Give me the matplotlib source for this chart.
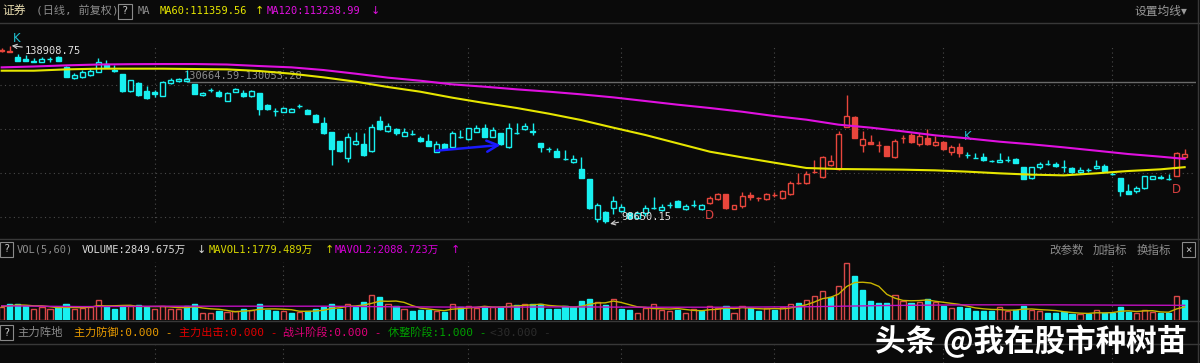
import matplotlib
matplotlib.use('Agg')
import matplotlib.pyplot as plt
from matplotlib.lines import Line2D
from matplotlib.patches import Rectangle
import numpy as np
import pandas as pd

plt.rcParams['font.family'] = ['DejaVu Sans Mono', 'Noto Sans CJK SC']

# ---- 数据（千元单位，读自原图） ----
OPEN = [137.78, 137.60, 136.42, 135.81, 135.30, 135.28, 135.80, 136.27, 134.15, 131.50,
        131.88, 132.26, 133.02, 134.68, 133.32, 132.41, 128.63, 130.37, 128.63, 128.33,
        127.57, 130.37, 130.90, 130.90, 130.22, 127.65, 128.82, 128.48, 126.44, 128.48,
        128.25, 127.50, 128.10, 125.46, 124.20, 123.94, 123.94, 125.20, 124.32, 123.19,
        121.45, 119.26, 117.29, 113.51, 116.54, 116.61, 115.02, 121.90, 119.56, 120.01,
        118.50, 118.98, 118.05, 117.29, 114.87, 116.61, 116.01, 118.27, 117.67, 119.41,
        120.16, 118.27, 119.03, 115.86, 119.20, 119.94, 119.45, 116.76, 115.42, 115.02,
        113.15, 112.45, 110.87, 108.67, 99.53, 101.11, 102.17, 101.49, 100.89, 99.90,
        100.89, 102.02, 101.57, 102.76, 103.68, 101.87, 102.76, 101.79, 103.15, 104.14,
        105.20, 101.87, 102.55, 105.04, 104.40, 104.06, 105.08, 104.29, 105.20, 107.80,
        107.69, 110.34, 109.20, 111.85, 110.87, 120.54, 122.81, 116.38, 117.14, 116.40,
        116.08, 113.59, 117.90, 118.65, 116.61, 117.90, 116.38, 117.14, 114.87, 115.86,
        114.15, 113.53, 113.59, 112.78, 112.60, 112.97, 113.13, 111.39, 108.82, 111.39,
        112.14, 112.00, 111.48, 111.24, 110.26, 110.65, 111.09, 111.62, 109.75, 108.97,
        105.95, 105.95, 106.56, 108.67, 109.13, 108.69, 109.35, 113.66]
HIGH = [138.31, 138.91, 136.95, 136.80, 136.19, 136.34, 136.34, 136.64, 134.20, 132.64,
        133.39, 133.77, 136.19, 135.66, 134.53, 132.50, 131.20, 130.75, 129.84, 128.86,
        130.90, 131.50, 131.66, 133.39, 130.30, 128.48, 129.39, 128.86, 128.48, 129.24,
        128.86, 128.86, 128.10, 125.76, 124.70, 125.00, 124.80, 125.61, 124.55, 123.34,
        122.73, 119.30, 117.40, 119.03, 119.41, 119.03, 121.07, 122.89, 121.45, 120.32,
        120.32, 119.71, 118.35, 118.80, 117.29, 116.84, 119.56, 119.79, 120.32, 120.92,
        121.22, 120.39, 119.10, 121.45, 121.30, 121.45, 121.45, 116.80, 116.01, 115.78,
        115.25, 114.12, 113.59, 108.70, 103.15, 101.49, 104.74, 103.08, 101.26, 101.50,
        102.78, 104.51, 103.08, 103.38, 103.80, 102.93, 103.91, 102.90, 104.89, 105.57,
        105.30, 102.80, 105.80, 105.80, 104.67, 105.40, 105.80, 106.25, 108.22, 109.96,
        110.49, 112.98, 113.97, 114.12, 119.56, 127.72, 122.90, 119.56, 118.65, 117.29,
        116.10, 117.75, 118.65, 119.03, 119.03, 119.94, 118.43, 117.29, 116.38, 116.76,
        114.87, 114.49, 114.49, 113.06, 114.65, 113.89, 113.51, 111.50, 111.50, 112.60,
        112.98, 112.60, 112.98, 111.30, 111.47, 111.09, 112.98, 112.00, 110.34, 109.00,
        107.54, 107.09, 109.43, 109.40, 109.58, 109.73, 114.70, 115.48]
LOW = [137.55, 137.50, 135.44, 135.40, 135.28, 135.25, 135.28, 135.40, 131.80, 131.35,
       131.66, 132.11, 132.86, 133.92, 133.02, 128.50, 128.50, 127.60, 126.82, 127.35,
       127.50, 130.22, 130.75, 130.75, 127.90, 127.57, 128.33, 127.35, 126.36, 128.33,
       127.35, 127.35, 123.19, 124.40, 122.96, 123.79, 123.90, 124.70, 123.34, 121.53,
       118.88, 111.85, 114.90, 112.45, 116.50, 113.97, 114.87, 119.79, 119.41, 118.65,
       118.40, 118.65, 117.14, 116.20, 114.80, 115.25, 115.95, 118.05, 117.59, 119.26,
       118.20, 118.20, 116.50, 115.80, 118.95, 119.71, 118.65, 114.87, 114.87, 113.59,
       112.91, 112.40, 108.80, 101.87, 99.00, 98.65, 100.81, 101.11, 99.60, 99.80,
       100.36, 101.87, 101.42, 102.17, 102.30, 101.57, 102.40, 101.70, 103.10, 103.99,
       101.90, 101.80, 102.02, 103.91, 103.68, 104.00, 104.67, 104.14, 105.04, 107.46,
       107.54, 109.96, 108.97, 111.70, 110.71, 120.50, 118.00, 114.87, 116.54, 114.87,
       113.90, 113.50, 116.76, 116.84, 116.16, 116.38, 116.23, 115.33, 114.12, 113.74,
       113.51, 113.36, 112.83, 112.45, 112.45, 112.60, 112.23, 108.60, 108.70, 110.94,
       111.90, 111.39, 110.34, 110.10, 109.81, 110.26, 110.94, 110.49, 109.58, 104.89,
       105.20, 105.42, 106.50, 108.60, 108.67, 108.37, 109.30, 113.50]
CLOSE = [137.93, 137.55, 135.51, 135.44, 135.45, 135.89, 135.90, 135.44, 131.88, 132.26,
         132.86, 133.17, 135.13, 134.07, 133.24, 128.63, 131.13, 127.72, 126.97, 127.88,
         130.75, 131.13, 131.35, 131.30, 127.96, 128.25, 128.86, 127.50, 128.10, 129.01,
         127.57, 128.63, 124.55, 124.50, 124.17, 124.70, 124.65, 125.24, 123.49, 121.68,
         119.03, 115.40, 115.02, 118.27, 117.29, 114.12, 120.47, 120.01, 120.77, 119.18,
         119.41, 118.95, 117.29, 116.23, 116.61, 115.48, 119.03, 118.30, 120.16, 120.32,
         118.27, 119.71, 116.54, 120.32, 119.15, 120.69, 119.40, 115.86, 115.38, 113.74,
         113.13, 113.10, 108.82, 102.17, 102.78, 99.15, 103.68, 102.32, 99.90, 100.89,
         102.02, 102.05, 102.32, 102.78, 102.40, 102.62, 102.80, 102.78, 104.44, 105.20,
         102.02, 102.70, 104.74, 104.51, 104.38, 105.27, 105.06, 105.95, 107.84, 107.78,
         109.81, 110.37, 113.74, 112.76, 118.88, 123.04, 118.05, 117.67, 116.61, 116.38,
         113.97, 117.37, 117.92, 116.99, 118.50, 116.54, 117.14, 115.48, 115.86, 114.65,
         114.10, 113.50, 112.98, 112.75, 112.98, 113.00, 112.38, 108.67, 111.39, 112.15,
         112.10, 111.55, 111.46, 110.18, 110.79, 110.63, 111.55, 110.56, 109.73, 106.03,
         105.27, 106.71, 109.28, 109.28, 108.82, 108.67, 114.65, 114.42]
# 成交量（万）
VOLUME = [1866, 2210, 2357, 2013, 1620, 1866, 1522, 1719, 2210, 1522,
          1719, 1866, 2946, 1964, 1620, 1964, 1964, 2111, 1866, 1620,
          2013, 1620, 1620, 1964, 2210, 1031, 1031, 1277, 1129, 1228,
          1522, 1375, 2259, 1375, 1277, 1277, 1031, 1129, 1277, 1522,
          1866, 2357, 1620, 2357, 1768, 2602, 3584, 3241, 2210, 1964,
          1620, 1277, 1375, 1473, 1277, 1129, 2357, 1768, 2013, 1719,
          1866, 1768, 1768, 2504, 2111, 2210, 2210, 2210, 1620, 1620,
          2013, 1768, 2701, 3093, 2602, 2111, 3093, 1620, 1473, 1031,
          1719, 2210, 1473, 1277, 1375, 1031, 1522, 1277, 2013, 1719,
          1964, 1031, 2013, 1719, 1277, 1719, 1375, 1768, 2357, 2504,
          2848, 3437, 4223, 3339, 4910, 8396, 6383, 4419, 2750, 2455,
          2504, 3584, 2750, 2504, 2602, 2995, 2602, 1964, 1719, 1866,
          1719, 1277, 1277, 1277, 1768, 1277, 1375, 1964, 1375, 1277,
          982, 982, 1129, 786, 786, 786, 1473, 1031, 982, 1768,
          1129, 982, 1473, 1129, 884, 884, 3437, 2850]
# 主力阵地红色区段（起止K线序号）
RED_RUNS = [(0, 1), (88, 119), (146, 147)]

# 均线读数（采样点）
MA_IDX = [0, 4, 8, 12, 16, 20, 24, 28, 32, 36, 40, 44, 48, 52, 56, 60, 64, 68, 72,
          76, 80, 84, 88, 92, 96, 100, 104, 108, 112, 116, 120, 124, 128, 132, 136,
          140, 144, 147]
MA60 = [133.24, 133.24, 133.54, 133.70, 133.70, 133.70, 133.62, 133.54, 133.17, 132.56,
        131.73, 130.75, 129.54, 128.48, 127.12, 125.91, 124.78, 123.49, 122.05, 120.32,
        118.65, 116.76, 114.87, 113.59, 112.38, 111.17, 110.94, 110.87, 110.79, 110.64,
        110.34, 109.96, 109.66, 109.50, 109.96, 110.49, 110.87, 111.36]
MA120 = [134.00, 134.19, 134.45, 134.64, 134.72, 134.75, 134.75, 134.64, 134.30, 134.00,
         133.39, 132.56, 131.66, 130.97, 130.14, 129.61, 129.01, 128.48, 127.88, 127.19,
         126.36, 125.53, 124.78, 123.94, 122.96, 122.13, 121.00, 120.32, 119.48, 118.58,
         117.90, 117.14, 116.54, 115.85, 115.10, 114.34, 113.74, 113.24]
MAVOL2_IDX = [0, 10, 20, 30, 40, 50, 60, 70, 80, 90, 100, 110, 120, 130, 140, 147]
MAVOL2 = [2013, 1900, 1960, 1960, 1960, 1860, 1810, 1860, 1810, 1810, 1880, 2060,
          2160, 2160, 2110, 2089]

MONTH_LINES = [19, 35, 58, 77, 96, 117, 138]
PRICE_GRID = [100, 110, 120, 130]

# ---- 样式 ----
BG = '#0a0a0a'
CYAN = '#18f0f0'
RED = '#e8463c'
YEL = '#e6e600'
MAG = '#e010e0'
GRID = '#4a4a4a'
SEP = '#383838'
W, H = 1200, 363

fig = plt.figure(figsize=(W / 100, H / 100), dpi=100, facecolor=BG)


def rect(x0, y0, x1, y1):
    return [x0 / W, 1 - y1 / H, (x1 - x0) / W, (y1 - y0) / H]


def ftxt(x, y, s, color, size=7.5, ha='left', **kw):
    fig.text(x / W, 1 - y / H, s, color=color, fontsize=size, ha=ha, va='center', **kw)


def fline(x0, y0, x1, y1, color=SEP, lw=1.0):
    fig.add_artist(Line2D([x0 / W, x1 / W], [1 - y0 / H, 1 - y1 / H],
                          transform=fig.transFigure, color=color, lw=lw))


def qbox(x0, y0, x1, y1, s='?'):
    fig.add_artist(Rectangle((x0 / W, 1 - y1 / H), (x1 - x0) / W, (y1 - y0) / H,
                             transform=fig.transFigure, fill=False, ec='#8a8a8a', lw=0.8))
    ftxt((x0 + x1) / 2, (y0 + y1) / 2, s, '#c8c8c8', size=7.5, ha='center')


o, h, l, c = (np.array(a) for a in (OPEN, HIGH, LOW, CLOSE))
vol = np.array(VOLUME)
n = len(o)
idx = np.arange(n)
red = np.zeros(n, bool)
for a, b in RED_RUNS:
    red[a:b + 1] = True
col = np.where(red, RED, CYAN)
up = c >= o
XLIM = (-0.21, 148.41)

# ── 主图 ──
ax = fig.add_axes(rect(0, 23, 1196, 237))
ax.set_facecolor(BG)
ax.set_xlim(*XLIM)
ax.set_ylim(95.52, 144.06)
ax.axis('off')
for p in PRICE_GRID:
    ax.axhline(p, color=GRID, lw=0.8, ls=(0, (1, 3)), zorder=0)
ax.vlines(MONTH_LINES, 99.0, 139.1, color=GRID, lw=0.8, ls=(0, (1, 3)), zorder=0)
ax.hlines(130.63, 23, XLIM[1], color='#6a6a6a', lw=1.0, zorder=1)
ax.text(23 - 0.35, 132.0, '130664.59-130053.28', color='#8c8c8c', fontsize=7.5,
        va='center', ha='left', zorder=1)

ax.vlines(idx, l, h, colors=col, lw=1.0, zorder=2)
face = np.where(up, BG, col)
ax.bar(idx, np.abs(c - o), 0.62, bottom=np.minimum(o, c), color=face,
       edgecolor=col, linewidth=1.0, zorder=3)

ax.plot(MA_IDX, MA60, color=YEL, lw=1.5, zorder=4)
ax.plot(MA_IDX, MA120, color=MAG, lw=1.5, zorder=4)

# 标注
ax.annotate('138908.75', xy=(1.25, 138.91), xytext=(2.9, 137.7), color='#e0e0e0',
            fontsize=7.5, va='center', ha='left',
            arrowprops=dict(arrowstyle='->', color='#d0d0d0', lw=0.8,
                            shrinkA=0, shrinkB=0))
ax.annotate('98650.15', xy=(75.6, 98.5), xytext=(77.0, 100.1), color='#e0e0e0',
            fontsize=7.5, va='center', ha='left', zorder=5,
            arrowprops=dict(arrowstyle='->', color='#d0d0d0', lw=0.8,
                            shrinkA=0, shrinkB=0))
ax.annotate('', xy=(62, 116.4), xytext=(54, 115.1),
            arrowprops=dict(arrowstyle='->,head_length=0.8,head_width=0.4',
                            color='#1a1aff', lw=1.8, shrinkA=0, shrinkB=0), zorder=5)
ax.text(1.85, 140.6, 'K', color='#20c0d0', fontsize=8.5, ha='center', va='center',
        family='DejaVu Sans')
ax.text(120, 118.4, 'K', color='#20c0d0', fontsize=8.5, ha='center', va='center',
        family='DejaVu Sans')
ax.text(88, 100.3, 'D', color='#d84040', fontsize=8.5, ha='center', va='center',
        family='DejaVu Sans')
ax.text(146, 106.4, 'D', color='#d84040', fontsize=8.5, ha='center', va='center',
        family='DejaVu Sans')

# ── 成交量 ──
axv = fig.add_axes(rect(0, 258, 1196, 319.5))
axv.set_facecolor(BG)
axv.set_xlim(*XLIM)
axv.set_ylim(0, 9060)
axv.axis('off')
axv.vlines(MONTH_LINES, 0, 8400, color=GRID, lw=0.8, ls=(0, (1, 3)), zorder=0)
prev = np.r_[c[0] - 1, c[:-1]]
vup = c >= prev
vcol = np.where(vup, '#d84848', CYAN)
vface = np.where(vup, BG, CYAN)
axv.bar(idx, vol, 0.64, color=vface, edgecolor=vcol, linewidth=1.0, zorder=2)
mavol1 = pd.Series(vol).rolling(5, min_periods=1).mean()
axv.plot(idx, mavol1, color='#c8b400', lw=1.0, zorder=3)
axv.plot(MAVOL2_IDX, MAVOL2, color='#c010c0', lw=1.0, zorder=3)

# ── 指标区 ──
axi = fig.add_axes(rect(0, 345, 1196, 363))
axi.set_facecolor(BG)
axi.set_xlim(*XLIM)
axi.set_ylim(0, 1)
axi.axis('off')
axi.vlines(MONTH_LINES, 0, 1, color=GRID, lw=0.8, ls=(0, (1, 3)))

# ── 分隔线 ──
fline(0, 22.5, 1200, 22.5)
fline(0, 238.5, 1200, 238.5)
fline(0, 320.5, 1200, 320.5)
fline(0, 344, 1200, 344)
fline(1197.5, 0, 1197.5, 363)

# ── 顶部文字 ──
ftxt(2, 11, '证券', '#e8dcb0', size=8.5)
ftxt(36, 11, '(日线, 前复权)', '#8c8c8c', size=8)
qbox(118, 4, 132, 19)
ftxt(138, 11, 'MA', '#8c8c8c')
ftxt(160, 11, 'MA60:111359.56', YEL)
ftxt(255, 11, '↑', YEL, size=8, family=['DejaVu Sans'])
ftxt(267, 11, 'MA120:113238.99', MAG)
ftxt(371, 11, '↓', MAG, size=8, family=['DejaVu Sans'])
ftxt(1187, 11, '设置均线▾', '#9a9a9a', size=8.5, ha='right',
     family=['Noto Sans CJK SC', 'DejaVu Sans'])

qbox(0, 242, 13, 257)
ftxt(17, 250, 'VOL(5,60)', '#8c8c8c')
ftxt(82, 250, 'VOLUME:2849.675万', '#d8d8d8')
ftxt(197, 250, '↓', '#d8d8d8', size=8, family=['DejaVu Sans'])
ftxt(209, 250, 'MAVOL1:1779.489万', '#d8d800')
ftxt(325, 250, '↑', '#d8d800', size=8, family=['DejaVu Sans'])
ftxt(335, 250, 'MAVOL2:2088.723万', '#d800d8')
ftxt(451, 250, '↑', '#d800d8', size=8, family=['DejaVu Sans'])
ftxt(1049, 250, '改参数', '#8c8c8c', size=8.3, family=['Noto Sans CJK SC'])
ftxt(1093, 250, '加指标', '#8c8c8c', size=8.3, family=['Noto Sans CJK SC'])
ftxt(1137, 250, '换指标', '#8c8c8c', size=8.3, family=['Noto Sans CJK SC'])
qbox(1182, 242, 1195, 257, '×')

qbox(0, 325, 13, 340)
ftxt(17, 332.5, '主力阵地', '#8c8c8c', size=8.2, family=['Noto Sans CJK SC'])
ftxt(74, 332.5, '主力防御:0.000 -', '#e89a00', size=8)
ftxt(179, 332.5, '主力出击:0.000 -', '#e00000', size=8)
ftxt(283, 332.5, '战斗阶段:0.000 -', '#e0007a', size=8)
ftxt(388, 332.5, '休整阶段:1.000 -', '#00a000', size=8)
ftxt(490, 332.5, '<30.000 -', '#2c2c2c', size=8)

# 水印
ftxt(875, 341, '头条 @我在股市种树苗', 'white', size=22, fontweight='bold',
     family=['Noto Sans CJK SC', 'DejaVu Sans'])

fig.savefig('out.png', dpi=100, facecolor=BG)
